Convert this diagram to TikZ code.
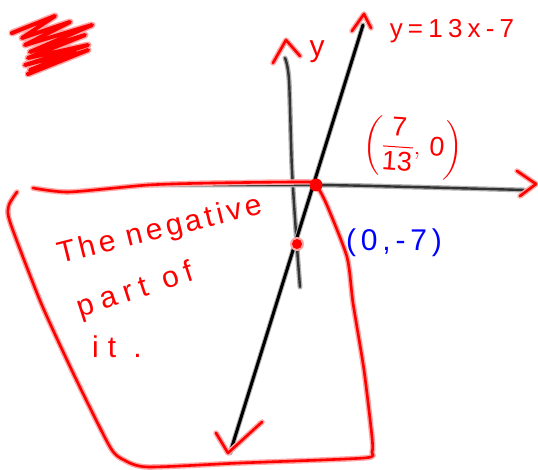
\documentclass[tikz,border=0pt]{standalone}
\usepackage{fontspec}
\setmainfont{Liberation Sans}
\usepackage{amsmath}

\begin{document}
\begin{tikzpicture}[
      x=1pt, y=-1pt,
      line cap=round, line join=round,
      pen/.style ={draw=red, line width=2.6pt, preaction={draw=red!35, line width=5.5pt}},
      ink/.style ={draw=black, line width=3pt, preaction={draw=black!30, line width=5pt}},
      axe/.style ={draw=black!80, line width=2.4pt, preaction={draw=black!30, line width=5pt}},
      rtxt/.style={text=red,  inner sep=0pt, font=\fontsize{30}{32}\selectfont\addfontfeatures{LetterSpace=#1}},
      rtxt/.default=0,
      btxt/.style={text=blue, inner sep=0pt, font=\fontsize{30}{32}\selectfont\addfontfeatures{LetterSpace=16}}
    ]
    \useasboundingbox (0,0) rectangle (538,470);

    % --- Garabato (esquina superior izquierda) ---
    \draw[pen, line width=4pt, preaction={draw=red!35, line width=7pt}]
        (12,33) -- (55,16) -- (22,38) -- (70,22) -- (25,45) -- (92,25) -- (30,52)
        -- (85,35) -- (28,58) -- (88,45) -- (25,65) -- (75,52) -- (30,70) -- (88,50) -- (28,74);

    % --- Ejes ---
    \coordinate (yTop) at (285,58);
    \coordinate (yBot) at (300,287);
    \coordinate (xLeft)  at (148,185);
    \coordinate (xRight) at (524,190);
    \draw[axe] plot[smooth] coordinates {(yTop) (289,80) (292,170) (297,247) (yBot)};
    \draw[axe] plot[smooth] coordinates {(xLeft) (315,185) (412,187) (xRight)};

    % --- Recta y = 13x - 7 ---
    \coordinate (lnTop) at (363,25);
    \coordinate (lnBot) at (230,453);
    \draw[ink] (lnBot) -- (lnTop);

    % --- Puntas de flecha (a mano) ---
    \draw[pen] (273,63)  -- (286,40)  -- (300,56);   % eje y
    \draw[pen] (352,31)  -- (364,14)  -- (371,28);   % recta, arriba
    \draw[pen] (216,433) -- (228,453) -- (262,422);  % recta, abajo
    \draw[pen] (517,171) -- (536,184) -- (520,196);  % eje x

    % --- Region negativa ---
    \draw[pen] plot[smooth, tension=0.4] coordinates {
        (17,192) (9,205) (10,222) (41,303) (75,377) (110,447) (124,460) (148,467)
        (240,463) (364,458) (372,452) (372,437) (364,370) (353,303) (347,257)
        (326,203) (316,185) (309,182) (213,183) (148,185) (69,192) (33,188)};

    % --- Puntos ---
    \fill[red] (316,185) circle (6.5);
    \fill[red!35] (297,244) circle (7);
    \fill[red] (297,244) circle (5);

    % --- Textos ---
    \node[rtxt] (lblY) at (317,52) {y};
    \node[rtxt, font=\fontsize{26}{28}\selectfont\addfontfeatures{LetterSpace=20}] (lblEq) at (452,31) {y=13x-7};
    \node[rtxt, font=\fontsize{27}{29}\selectfont, rotate=-4] (lblRoot) at (413,148)
        {$\left(\dfrac{\text{7}}{\text{13}},\,\text{0}\right)$};
    \node[btxt] (lblCut) at (394,243) {(0,-7)};
    \node[rtxt=12, rotate=14] (lblNeg) at (160,231) {The negative};
    \node[rtxt=24, rotate=18] (lblPart) at (136,291) {part of};
    \node[rtxt=30] (lblIt) at (117,347) {it .};

  \end{tikzpicture}
\end{document}
